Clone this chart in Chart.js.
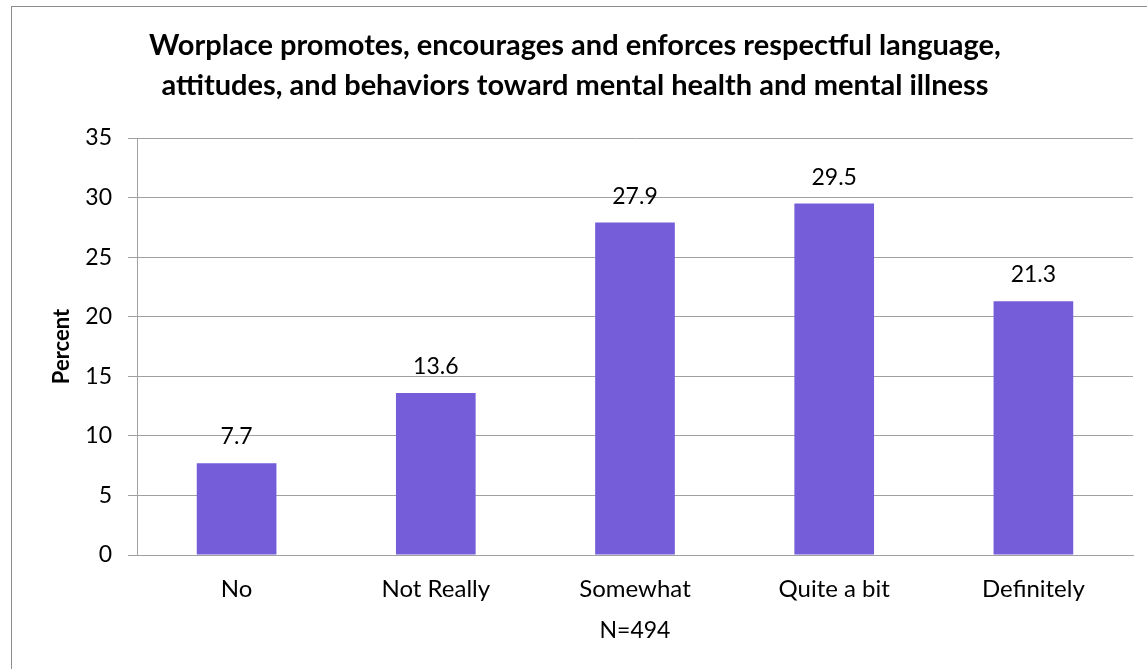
<!DOCTYPE html>
<html lang="en">

<head>
    <meta charset="UTF-8">
    <title>Respectful language chart</title>
    <script src="https://cdn.jsdelivr.net/npm/chart.js"></script>
    <style>
        body { margin: 0; background: #fff; }
    </style>
</head>

<body>
    <canvas id="myChart" width="1147" height="669"></canvas>

    <script>
        // Datos
        const categories = ['No', 'Not Really', 'Somewhat', 'Quite a bit', 'Definitely'];
        const percents = [7.7, 13.6, 27.9, 29.5, 21.3];
        const titleLines = [
            'Worplace promotes, encourages and enforces respectful language,',
            'attitudes, and behaviors toward mental health and mental illness'
        ];
        const yTicks = [0, 5, 10, 15, 20, 25, 30, 35];

        const fontFamily = 'Lato, Carlito, Calibri, sans-serif';

        // marco gris y etiquetas encima de las barras
        const extras = {
            id: 'extras',
            beforeDraw(chart) {
                const ctx = chart.ctx;
                ctx.save();
                ctx.fillStyle = '#fff';
                ctx.fillRect(0, 0, chart.width, chart.height);
                ctx.strokeStyle = '#8c8c8c';
                ctx.lineWidth = 1;
                ctx.strokeRect(11.5, 6.5, 1300, 800);
                ctx.restore();
            },
            afterDatasetsDraw(chart) {
                const ctx = chart.ctx;
                const meta = chart.getDatasetMeta(0);
                ctx.save();
                ctx.font = '23px ' + fontFamily;
                ctx.fillStyle = '#000';
                ctx.textAlign = 'center';
                ctx.textBaseline = 'alphabetic';
                meta.data.forEach((bar, i) => {
                    ctx.fillText(percents[i].toFixed(1), bar.x, bar.y - 19);
                });
                ctx.restore();
            }
        };

        const ctx = document.getElementById('myChart').getContext('2d');
        const myChart = new Chart(ctx, {
            type: 'bar',
            data: {
                labels: categories,
                datasets: [{
                    data: percents,
                    backgroundColor: '#755dda',
                    borderWidth: 0,
                    barPercentage: 0.4,
                    categoryPercentage: 1
                }]
            },
            options: {
                responsive: false,
                animation: false,
                layout: { padding: { left: 17, right: 14, top: 0, bottom: 0 } },
                plugins: {
                    legend: { display: false },
                    tooltip: { enabled: false },
                    title: {
                        display: true,
                        text: titleLines,
                        color: '#000',
                        font: { family: fontFamily, size: 29, weight: 'bold', lineHeight: 1.38 },
                        padding: { top: 26, bottom: 32 }
                    }
                },
                scales: {
                    x: {
                        grid: { display: false, drawTicks: false },
                        border: { display: true, color: '#a0a0a0', width: 1 },
                        ticks: { color: '#000', font: { family: fontFamily, size: 24 }, padding: 20, maxRotation: 0 },
                        title: {
                            display: true,
                            text: 'N=494',
                            color: '#000',
                            font: { family: fontFamily, size: 23 },
                            padding: { top: 25, bottom: 25 }
                        },
                        afterFit(scale) { scale.height = 114; }
                    },
                    y: {
                        min: 0,
                        max: 35,
                        afterBuildTicks(scale) { scale.ticks = yTicks.map(v => ({ value: v })); },
                        grid: { color: '#a0a0a0', lineWidth: 1, tickLength: 9 },
                        border: { display: true, color: '#a0a0a0', width: 1 },
                        ticks: { color: '#000', font: { family: fontFamily, size: 23 }, padding: 16 },
                        title: {
                            display: true,
                            text: 'Percent',
                            color: '#000',
                            font: { family: fontFamily, size: 22, weight: 'bold', lineHeight: 1.2 },
                            padding: { top: 32, bottom: 0 }
                        },
                        afterFit(scale) { scale.width = 120; }
                    }
                }
            },
            plugins: [extras]
        });
    </script>
</body>

</html>
